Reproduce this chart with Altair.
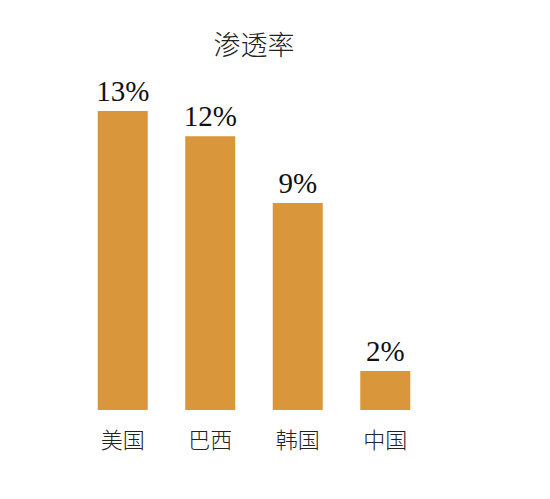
import altair as alt
import pandas as pd

# Dados do gráfico
paises = ['美国', '巴西', '韩国', '中国']
valores = [13.0, 11.9, 9.0, 1.7]
rotulos = ['13%', '12%', '9%', '2%']

df = pd.DataFrame({'pais': paises, 'valor': valores, 'rotulo': rotulos})

base = alt.Chart(df).encode(
    x=alt.X('pais:N', sort=paises, title=None,
            scale=alt.Scale(paddingInner=0.4286, paddingOuter=0.214),
            axis=alt.Axis(labelAngle=0, domain=False, ticks=False, labelPadding=20,
                          labelFontSize=22, labelFont='Noto Sans CJK SC',
                          labelColor='#222222', labelFontWeight=300)),
    y=alt.Y('valor:Q', title=None, scale=alt.Scale(domain=[0, 13], nice=False),
            axis=None),
)

barras = base.mark_bar(color='#D9963B')

texto = base.mark_text(baseline='alphabetic', dy=-10,
                       font='Liberation Serif',
                       fontSize=29, color='#111111').encode(text='rotulo:N')

chart = alt.layer(barras, texto).properties(
    width=350, height=299,
    autosize=alt.AutoSizeParams(type='none'),
    padding={'left': 71, 'top': 103, 'right': 10, 'bottom': 80},
    title=alt.TitleParams('渗透率', font='Noto Sans CJK SC', fontSize=27,
                          fontWeight=300, color='#222222', anchor='middle',
                          frame='group', offset=17),
).configure_view(stroke=None)

chart.save("out.html", embed_options={"renderer": "svg", "actions": False})
